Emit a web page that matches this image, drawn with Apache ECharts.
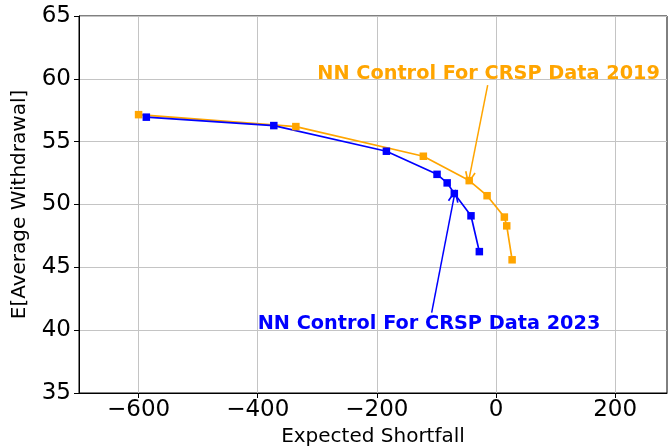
<!DOCTYPE html>
<html>
<head>
<meta charset="utf-8">
<script src="https://cdn.jsdelivr.net/npm/echarts@6/dist/echarts.min.js"></script>
<style>html,body{margin:0;padding:0;background:#fff;}#c{width:668px;height:448px;}</style>
</head>
<body>
<div id="c"></div>
<script>
// Data
const shortfall2019 = [-600, -336, -122, -45, -15, 14, 18, 27];
const withdrawal2019 = [57.15, 56.2, 53.84, 51.9, 50.7, 49.0, 48.3, 45.6];
const shortfall2023 = [-587, -373, -184, -99, -82, -70, -42, -28];
const withdrawal2023 = [56.95, 56.28, 54.24, 52.4, 51.72, 50.87, 49.1, 46.25];
const xTicks = [-600, -400, -200, 0, 200];
const label2019 = 'NN Control For CRSP Data 2019';
const label2023 = 'NN Control For CRSP Data 2023';
const textPos2019 = [-300, 60.4];
const textPos2023 = [-400, 40.5];
const arrow2019 = [[-14, 59.5], [-45, 52.1]];
const arrow2023 = [[-108, 41.4], [-70, 50.7]];

const FONT = 'DejaVu Sans';
const ORANGE = '#FFA500';
const BLUE = '#0000FF';
const arrowHead = 'path://M0,10 L5,0 L10,10 L8.6,10.6 L5,3 L1.4,10.6 Z';

function pairs(xs, ys) { return xs.map((x, i) => [x, ys[i]]); }

function lineSeries(name, xs, ys, color, text, textPos, arrow) {
  return {
    name: name,
    type: 'line',
    data: pairs(xs, ys),
    symbol: 'rect',
    symbolSize: 7.5,
    lineStyle: { color: color, width: 1.7 },
    itemStyle: { color: color },
    animation: false,
    markPoint: {
      symbol: 'rect',
      symbolSize: 0,
      silent: true,
      data: [{
        coord: textPos,
        label: {
          show: true,
          formatter: text,
          position: 'right',
          distance: 0,
          color: color,
          fontFamily: FONT,
          fontWeight: 'bold',
          fontSize: 19.3
        }
      }]
    },
    markLine: {
      silent: true,
      symbol: ['none', arrowHead],
      symbolSize: [11, 13],
      label: { show: false },
      lineStyle: { color: color, width: 1.5, type: 'solid' },
      data: [[{ coord: arrow[0] }, { coord: arrow[1] }]]
    }
  };
}

const chart = echarts.init(document.getElementById('c'), null, { renderer: 'canvas' });
chart.setOption({
  animation: false,
  backgroundColor: '#fff',
  grid: { left: 79, right: 1, top: 16, bottom: 55, containLabel: false, outerBoundsMode: 'none',
    show: true, borderColor: '#000', borderWidth: 1, backgroundColor: 'transparent' },
  xAxis: {
    type: 'value',
    min: -700,
    max: 287,
    name: 'Expected Shortfall',
    nameLocation: 'middle',
    nameGap: 29,
    nameTextStyle: { fontFamily: FONT, fontSize: 20, color: '#000' },
    axisLine: { show: true, onZero: false, lineStyle: { color: '#000', width: 1 } },
    axisTick: { show: true, length: 5, customValues: xTicks, lineStyle: { color: '#000' } },
    axisLabel: { customValues: xTicks, fontFamily: FONT, fontSize: 23, color: '#000', margin: 6,
      formatter: v => (v < 0 ? '\u2212' + Math.abs(v) : String(v)) },
    splitLine: { show: true, lineStyle: { color: '#c4c4c4', width: 1 } }
  },
  yAxis: {
    type: 'value',
    min: 35,
    max: 65,
    interval: 5,
    name: 'E[Average Withdrawal]',
    nameLocation: 'middle',
    nameGap: 49,
    nameTextStyle: { fontFamily: FONT, fontSize: 20, color: '#000' },
    axisLine: { show: true, onZero: false, lineStyle: { color: '#000', width: 1 } },
    axisTick: { show: true, length: 5, lineStyle: { color: '#000' } },
    axisLabel: { fontFamily: FONT, fontSize: 23, color: '#000', margin: 8 },
    splitLine: { show: true, lineStyle: { color: '#c4c4c4', width: 1 } }
  },
  series: [
    lineSeries('2019', shortfall2019, withdrawal2019, ORANGE, label2019, textPos2019, arrow2019),
    lineSeries('2023', shortfall2023, withdrawal2023, BLUE, label2023, textPos2023, arrow2023)
  ]
});
</script>
</body>
</html>
